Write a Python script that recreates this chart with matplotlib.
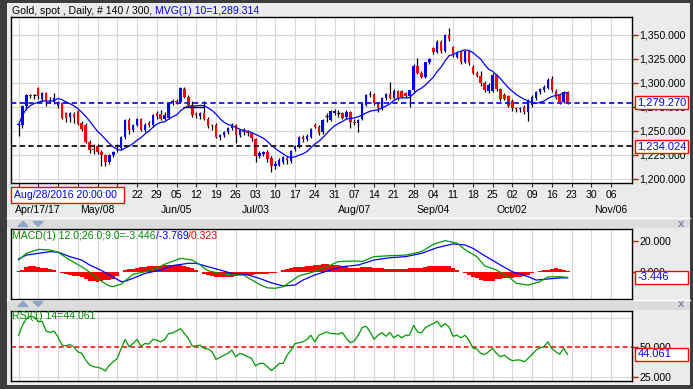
import matplotlib
matplotlib.use("Agg")
import matplotlib.pyplot as plt
import matplotlib.transforms as mtrans
from matplotlib.patches import Rectangle, Polygon
import numpy as np
import pandas as pd

W, H = 693, 389

# ---------------- data ----------------
opens = [1256, 1256, 1276, 1288, 1287, 1294.5, 1283, 1290, 1281, 1280,
         1276.5, 1279, 1268.5, 1265, 1268, 1271, 1258, 1256, 1239, 1230.5,
         1234.4, 1228.4, 1225, 1218, 1225, 1231, 1232, 1244, 1261.5, 1251.5,
         1256, 1263, 1251, 1258.5, 1256, 1268.4, 1267.5, 1263, 1264, 1279,
         1281, 1280.6, 1293.4, 1285.5, 1277, 1267.5, 1266, 1268.5, 1263, 1255.5,
         1256, 1244, 1245.8, 1249.3, 1252.8, 1256, 1246, 1249.5, 1249, 1247.6,
         1242, 1224, 1226, 1228, 1222, 1213, 1215, 1218, 1221.5, 1219,
         1231, 1234, 1244, 1242, 1244, 1256, 1254.5, 1249, 1265, 1261.5,
         1268.5, 1268.8, 1268.4, 1265, 1270, 1259, 1258, 1262, 1277, 1287.5,
         1289, 1279, 1273.6, 1284, 1289, 1284, 1292, 1291.5, 1290, 1286,
         1292.5, 1318, 1310, 1306.6, 1321.5, 1336, 1332.6, 1343, 1333, 1349.5,
         1338, 1327.5, 1332.6, 1322, 1333, 1317, 1310.5, 1307, 1300, 1292,
         1292, 1308, 1294, 1288, 1286, 1281, 1273, 1272.5, 1275.3, 1270,
         1277, 1284, 1291, 1292.5, 1295, 1304, 1292, 1287.5, 1280.6, 1291]
highs = [1258, 1277, 1288.5, 1289, 1289, 1295.5, 1291, 1291, 1285, 1290,
         1281, 1280, 1270, 1270, 1270, 1272, 1260, 1258, 1241, 1236,
         1236, 1230, 1226, 1226, 1229.5, 1236, 1245, 1262, 1264, 1257,
         1264, 1264, 1258, 1260, 1268, 1271, 1272, 1270, 1280, 1283,
         1283, 1296, 1296, 1287, 1281, 1270, 1270, 1281, 1265, 1257,
         1258, 1247, 1250, 1254, 1258, 1257, 1252, 1253, 1251, 1249,
         1243, 1229, 1229, 1230, 1224, 1219, 1222, 1224, 1224, 1230,
         1235, 1245, 1246, 1247, 1253, 1258, 1256, 1262, 1268.4, 1272,
         1273, 1272, 1270, 1272, 1271, 1262, 1263, 1279, 1289, 1292,
         1290, 1280, 1285, 1290, 1301, 1294, 1293, 1293, 1291, 1293,
         1319.5, 1326, 1312, 1322, 1326, 1338, 1345, 1345, 1351, 1357,
         1339, 1333, 1334, 1334, 1334, 1319, 1312, 1312, 1302, 1300,
         1310, 1309, 1295, 1290, 1288, 1283, 1275, 1275, 1277, 1283,
         1287, 1292, 1295, 1298, 1305, 1307, 1294, 1289, 1292, 1292]
lows = [1245, 1253, 1272, 1284, 1283, 1283, 1280, 1276, 1279, 1278,
        1274, 1263, 1259.7, 1259, 1258, 1256, 1250, 1237, 1226.7, 1226,
        1226, 1214, 1214, 1216, 1223, 1228, 1230, 1242, 1247, 1249,
        1255, 1250, 1249, 1254, 1254, 1263, 1261, 1261, 1262, 1277,
        1278, 1279, 1284, 1275, 1265, 1264, 1263, 1261, 1253, 1251,
        1243, 1241, 1244, 1247, 1251, 1237, 1244, 1246, 1245, 1240,
        1218, 1222, 1224, 1218, 1207, 1210, 1213, 1216, 1216, 1217,
        1229, 1232, 1238, 1240, 1243, 1253, 1246, 1247, 1259.7, 1260,
        1267, 1265, 1262, 1263, 1252.8, 1256, 1249.3, 1261, 1276, 1285,
        1277, 1270, 1272, 1282, 1283, 1283, 1282, 1284, 1285, 1275,
        1291, 1309, 1305, 1305, 1320, 1330, 1331, 1331, 1332, 1344,
        1327, 1326, 1320, 1321, 1319, 1309, 1306, 1297, 1291, 1290,
        1291, 1292, 1281, 1282, 1275, 1271, 1270, 1270, 1268, 1260,
        1275, 1282, 1289, 1291, 1294, 1291, 1283, 1278, 1279, 1278]
closes = [1256.5, 1276, 1287, 1286.5, 1287.3, 1286, 1290, 1281, 1280.5, 1284.5,
          1280, 1264, 1263.2, 1268.4, 1265, 1257.3, 1251.7, 1239, 1230.2, 1230,
          1228.4, 1225, 1218, 1225, 1228.4, 1232, 1244, 1261.5, 1251, 1256,
          1263, 1251, 1256, 1256, 1266.7, 1266, 1263, 1267, 1279, 1281,
          1280.5, 1294.4, 1285.8, 1277, 1267, 1266.8, 1268.4, 1263, 1255.5, 1255,
          1244.1, 1245.8, 1249.3, 1252.8, 1256.2, 1246, 1251, 1249, 1247.6, 1242.4,
          1224, 1227, 1228, 1221, 1213, 1216, 1220, 1223, 1220, 1229,
          1234, 1244, 1242, 1245, 1252, 1254.5, 1247.6, 1261.5, 1265.2, 1270.8,
          1270.8, 1268.4, 1263.2, 1270, 1259.7, 1258, 1261.5, 1278, 1287.5, 1289,
          1279, 1273.6, 1284, 1288.5, 1284, 1292, 1283.5, 1285, 1286, 1292.5,
          1318, 1310, 1306.6, 1321.5, 1324.7, 1332.6, 1343, 1333, 1349.5, 1346,
          1329, 1331, 1322, 1333, 1321, 1310, 1307, 1299.6, 1292.7, 1298,
          1308.3, 1293.5, 1283, 1283, 1276, 1273.6, 1272.5, 1273, 1270, 1281,
          1285.5, 1290.5, 1293.4, 1296, 1303, 1293, 1284.5, 1280.6, 1291, 1279.27]

rsi_vals = [60.5, 69, 74.8, 76.8, 76, 72, 72.5, 64, 63, 64,
            59, 52, 51.4, 52.5, 50.6, 46.3, 45, 39.2, 34.9, 33.5,
            32.9, 32, 29.8, 34.9, 37.7, 40.6, 49.2, 56.9, 50.6, 53.4,
            56.9, 51.1, 53.4, 52.9, 56.9, 56.3, 54.8, 56.9, 61.9, 62.5,
            64.2, 66.2, 61.9, 57.7, 51.1, 51.4, 52, 49.2, 48.6, 46.3,
            39.8, 41.4, 43.4, 44.9, 47.7, 42, 44.9, 44, 42, 40.6,
            34.1, 36.3, 36.3, 33.5, 30.1, 32.9, 36.3, 36.3, 43.4, 47.7,
            53.4, 54, 54.8, 56.9, 60.5, 54.8, 60.5, 61.9, 63.4, 61.9,
            61.9, 61.5, 62.8, 57.7, 54, 55.6, 60.5, 67.1, 68.2, 63.4,
            57.1, 60.5, 62.8, 59.6, 62.8, 58.3, 60.8, 58.3, 60.5, 60.5,
            69, 63.4, 62.5, 67.1, 69, 70.5, 72.5, 67.6, 70.5, 67.6,
            59.6, 60.5, 58.3, 60.5, 56.3, 49.7, 48.6, 44.9, 44, 46.3,
            49.2, 44.9, 42, 43.4, 40.6, 38.6, 39.2, 39.2, 37.7, 40.6,
            44, 47.7, 49.7, 50.6, 54.8, 49.2, 46.3, 44.3, 49.2, 44.061]

macd_idx = [0, 2, 5, 8, 10, 13, 16, 19, 21, 23, 24, 26, 28, 29, 32, 35, 37, 41, 44, 46,
            48, 51, 54, 57, 59, 61, 63, 65, 67, 69, 71, 75, 78, 81, 85, 87, 90, 94, 98, 102,
            105, 108, 111, 113, 116, 118, 121, 124, 126, 129, 132, 134, 137, 139]
macd_vals = [7.7, 12.0, 14.6, 14.2, 12.7, 7.7, 3.4, -1.9, -6.0, -9.0, -9.5, -7.8, -3.5, -1.5, 0.2, 2.4, 5.0, 8.8, 7.7, 4.5,
             0.8, -0.9, -1.9, -2.0, -5.0, -8.0, -10.2, -10.5, -9.5, -6.0, -2.5, 0.3, 3.4, 6.7, 7.1, 6.8, 9.9, 10.5, 10.9, 13.1,
             17.8, 20.2, 18.6, 14.5, 9.9, 4.0, 1.3, -3.0, -7.3, -8.4, -6.2, -3.2, -3.0, -3.446]
sig_idx = [0, 2, 5, 8, 10, 13, 16, 18, 21, 23, 26, 27, 30, 32, 36, 39, 43, 45, 48, 51,
           54, 58, 61, 64, 67, 70, 72, 75, 79, 82, 86, 90, 94, 98, 102, 106, 110, 113, 115, 118,
           122, 125, 129, 131, 134, 137, 139]
sig_vals = [8.4, 10.9, 12.0, 13.1, 12.8, 9.9, 7.7, 4.5, 1.0, -1.9, -6.2, -6.0, -3.0, -0.9, 1.3, 4.1, 5.6, 5.6, 3.4, 1.3,
            -0.9, -1.9, -4.1, -7.0, -9.0, -8.4, -5.2, -1.9, 1.3, 3.4, 4.5, 7.7, 9.2, 9.9, 12.0, 15.7, 18.1, 17.4, 15.3, 10.5,
            4.5, 0.2, -3.0, -5.2, -4.5, -3.8, -3.769]
hist_vals = [0.8, 1.5, 3.0, 4.0, 4.1, 3.5, 2.6, 2.4, 2.0, 1.2,
             0.2, -0.5, -1.5, -2.2, -2.5, -2.8, -3.5, -4.6, -5.5, -6.0,
             -6.2, -6.0, -5.4, -5.2, -4.2, -2.5, -0.3, 1.2, 1.8, 2.2,
             2.8, 3.2, 3.4, 3.6, 3.9, 3.9, 4.0, 4.2, 4.5, 4.6,
             4.5, 4.4, 3.8, 3.4, 2.5, 1.3, 0.2, -1.0, -2.2, -2.8,
             -3.2, -3.3, -3.2, -3.2, -3.0, -2.6, -2.2, -2.2, -2.0, -1.8,
             -1.5, -1.6, -1.5, -1.2, -0.8, -0.4, 0.3, 1.2, 1.9, 2.4,
             3.0, 3.4, 3.5, 3.6, 3.8, 4.3, 4.7, 4.9, 4.9, 4.8,
             4.6, 4.2, 3.6, 3.0, 2.8, 2.6, 2.6, 3.0, 3.4, 3.4,
             2.8, 2.4, 2.4, 2.2, 1.9, 1.9, 1.8, 1.7, 1.9, 2.3,
             2.8, 2.8, 2.7, 3.0, 3.6, 4.0, 4.1, 4.0, 4.1, 3.6,
             2.8, 1.2, 0.2, -0.5, -1.8, -3.0, -4.0, -5.2, -5.8, -5.8,
             -5.5, -4.8, -4.2, -4.1, -4.0, -3.6, -3.2, -3.0, -2.6, -1.8,
             -0.6, 0.3, 0.9, 1.3, 1.6, 2.2, 2.4, 1.8, 1.3, 0.323]

monday_days = ["10", "17", "24", "01", "08", "15", "22", "29", "05", "12", "19", "26",
               "03", "10", "17", "24", "31", "07", "14", "21", "28", "04", "11", "18",
               "25", "02", "09", "16", "23", "30", "06"]
month_labels = ["Apr/17/17", "May/08", "Jun/05", "Jul/03", "Aug/07", "Sep/04", "Oct/02", "Nov/06"]
month_monday = [1, 4, 8, 12, 17, 21, 25, 30]
price_ticks = [1200, 1225, 1250, 1275, 1300, 1325, 1350]
macd_ticks = [0, 20]
rsi_ticks = [25, 50]
last_close = 1279.27
support = 1234.024
ma_period = 10
ma_label = "1,289.314"
cursor_label = "Aug/28/2016 20:00:00"

# ---------------- styling helpers ----------------
plt.rcParams['font.family'] = ['Liberation Sans', 'DejaVu Sans']
plt.rcParams['axes.unicode_minus'] = False
FS = 7.6
BLUE = '#0000ff'
RED = '#ff0000'
GREEN = '#009a00'
GRID = '#d6d6d6'
CURSOR_BOX_RIGHT = 124   # px: day labels left of this lie under the cursor box


def rect(x0, y0, x1, y1):
    return [x0 / W, 1 - y1 / H, (x1 - x0) / W, (y1 - y0) / H]


fig = plt.figure(figsize=(W / 100, H / 100), dpi=100)
fig.patch.set_facecolor('#3c3c3c')
fig.patches.append(Rectangle((7 / W, 1 - 385 / H), (690 - 7) / W, (385 - 3) / H,
                             transform=fig.transFigure, facecolor='#ebebeb',
                             edgecolor='none', zorder=-10))
for ytop in (218, 300):
    fig.patches.append(Rectangle((7 / W, 1 - (ytop + 10) / H), (690 - 7) / W, 10 / H,
                                 transform=fig.transFigure, facecolor='#dcdcdc',
                                 edgecolor='none', zorder=-9))
    fig.lines.append(plt.Line2D([7 / W, 690 / W], [1 - ytop / H] * 2,
                                transform=fig.transFigure, color='white', lw=1, zorder=-8))

n = len(closes)
idx = np.arange(n)
mondays = np.arange(len(monday_days)) * 5
xmin, xmax = -1.9, 155.3

o = np.array(opens); c = np.array(closes); hi = np.array(highs); lo = np.array(lows)

# ---------------- main price panel ----------------
ax = fig.add_axes(rect(11, 17, 632, 183))
ax.set_facecolor('white')
ax.set_xlim(xmin, xmax)
ax.set_ylim(1195.8, 1368.75)
for m in mondays:
    ax.axvline(m, color=GRID, lw=0.8, zorder=0)
for p in price_ticks:
    ax.axhline(p, color=GRID, lw=0.8, zorder=0)

ax.vlines(idx, lo, hi, color='black', lw=0.9, zorder=2)
diff = c - o
doji = np.abs(diff) < 0.45
body_col = np.where(diff > 0, BLUE, RED)
bot = np.minimum(o, c)
hgt = np.maximum(np.abs(diff), 1.1)
ax.bar(idx[~doji], hgt[~doji], bottom=bot[~doji], width=0.62,
       color=body_col[~doji], lw=0, zorder=3)
ax.hlines(c[doji], idx[doji] - 0.4, idx[doji] + 0.4, color='black', lw=1.0, zorder=3)

ma = pd.Series(c).rolling(ma_period, min_periods=1).mean()
ax.plot(idx, ma, color=BLUE, lw=0.9, zorder=4)
ax.axhline(last_close, color=BLUE, lw=1.2, linestyle=(0, (3.2, 2.0)), zorder=5)
ax.axhline(support, color='black', lw=1.2, linestyle=(0, (3.2, 2.0)), zorder=5)
ax.hlines(1275.3, 41.6, 47, color='black', lw=1.0, zorder=5)

ax.yaxis.tick_right()
ax.set_yticks(price_ticks)
ax.set_yticklabels([f"{v:,.3f}" for v in price_ticks])
ax.tick_params(axis='y', direction='out', length=4, width=1, color=RED,
               labelcolor='black', labelsize=FS, pad=1.5)
ax.set_xticks(mondays)
ax.set_xticklabels([])
ax.tick_params(axis='x', direction='out', length=3, width=0.8, color='#333333')
for s in ax.spines.values():
    s.set_color('black'); s.set_linewidth(1)

trans_x = mtrans.blended_transform_factory(ax.transData, fig.transFigure)
for m, d in zip(mondays, monday_days):
    xpix = ax.transData.transform((m, 0))[0]
    if xpix < CURSOR_BOX_RIGHT + 6:
        continue  # hidden behind the cursor date box in the reference
    ax.text(m, 1 - 195 / H, d, transform=trans_x, ha='center', va='center',
            fontsize=FS, clip_on=False)
for k, lab in zip(month_monday, month_labels):
    ax.text(mondays[k], 1 - 210 / H, lab, transform=trans_x, ha='center',
            va='center', fontsize=FS, clip_on=False)

fig.patches.append(Rectangle((11 / W, 1 - 203 / H), (CURSOR_BOX_RIGHT - 11) / W, 16 / H,
                             transform=fig.transFigure, facecolor='white',
                             edgecolor=RED, lw=1, zorder=6))
fig.text(14 / W, 1 - 195.5 / H, cursor_label, color=BLUE, fontsize=FS,
         ha='left', va='center', zorder=7)


def value_box(axis, val, text):
    ypix = axis.transData.transform((0, val))[1]
    fig.patches.append(Rectangle((635 / W, (ypix - 6.5) / H), 53 / W, 13 / H,
                                 transform=fig.transFigure, facecolor='white',
                                 edgecolor=RED, lw=1, zorder=6))
    fig.text(637.5 / W, ypix / H, text, color=BLUE, fontsize=FS + 0.4,
             ha='left', va='center', zorder=7)


def rich(x_px, y_px, pieces, size=FS):
    r = fig.canvas.get_renderer()
    x = x_px
    for s, col, gap in pieces:
        t = fig.text(x / W, 1 - y_px / H, s, color=col, fontsize=size,
                     ha='left', va='center', zorder=8)
        x += t.get_window_extent(renderer=r).width + gap


# ---------------- MACD panel ----------------
ax2 = fig.add_axes(rect(11, 229, 632, 299))
ax2.set_facecolor('white')
ax2.set_xlim(xmin, xmax)
ax2.set_ylim(-17.4, 27.7)
for m in mondays:
    ax2.axvline(m, color=GRID, lw=0.8, zorder=0)
ax2.bar(idx, hist_vals, width=1.0, color=RED, lw=0, zorder=2)
ax2.plot(sig_idx, sig_vals, color=BLUE, lw=0.9, zorder=3)
ax2.plot(macd_idx, macd_vals, color=GREEN, lw=0.9, zorder=4)
ax2.yaxis.tick_right()
ax2.set_yticks(macd_ticks)
ax2.set_yticklabels([f"{v:,.3f}" for v in macd_ticks])
ax2.tick_params(axis='y', direction='out', length=4, width=1, color=RED,
                labelcolor='black', labelsize=FS, pad=1.5)
ax2.set_xticks([])
for s in ax2.spines.values():
    s.set_color('black'); s.set_linewidth(1)

# ---------------- RSI panel ----------------
ax3 = fig.add_axes(rect(11, 311, 632, 381))
ax3.set_facecolor('white')
ax3.set_xlim(xmin, xmax)
ax3.set_ylim(21.2, 81.3)
for m in mondays:
    ax3.axvline(m, color=GRID, lw=0.8, zorder=0)
for lvl in (25, 75):
    ax3.axhline(lvl, color=GRID, lw=0.8, zorder=0)
ax3.axhline(50, color=RED, lw=1.1, linestyle=(0, (3.2, 2.0)), zorder=2)
ax3.plot(idx, rsi_vals, color=GREEN, lw=0.9, zorder=3)
ax3.yaxis.tick_right()
ax3.set_yticks(rsi_ticks)
ax3.set_yticklabels([f"{v:,.3f}" for v in rsi_ticks])
ax3.tick_params(axis='y', direction='out', length=4, width=1, color=RED,
                labelcolor='black', labelsize=FS, pad=1.5)
ax3.set_xticks([])
for s in ax3.spines.values():
    s.set_color('black'); s.set_linewidth(1)

value_box(ax, last_close, f"{last_close:,.3f}")
value_box(ax, support, f"{support:,.3f}")
value_box(ax2, macd_vals[-1], f"{macd_vals[-1]:.3f}")
value_box(ax3, rsi_vals[-1], f"{rsi_vals[-1]:.3f}")

rich(12, 10.5, [("Gold, spot , Daily, # 140 / 300,", 'black', 3.0),
                (f"MVG(1) {ma_period}={ma_label}", BLUE, 0)])
rich(12, 236.5, [("MACD(1) 12.0;26.0;9.0=-3.446", '#008c00', 0),
                 ("/-3.769", BLUE, 0), ("/0.323", RED, 0)])
rich(12, 316, [("RSI(1) 14=44.061", '#008c00', 0)])

ARW = '#8ea6c6'
for yb in (221.5, 301.5):
    fig.patches.append(Polygon([(18 / W, 1 - (yb + 5) / H), (28 / W, 1 - (yb + 5) / H),
                                (23 / W, 1 - yb / H)], closed=True,
                               transform=fig.transFigure, color=ARW, zorder=6))
    fig.patches.append(Polygon([(33 / W, 1 - yb / H), (43 / W, 1 - yb / H),
                                (38 / W, 1 - (yb + 5) / H)], closed=True,
                               transform=fig.transFigure, color=ARW, zorder=6))
for yc in (224, 304):
    fig.text(681 / W, 1 - yc / H, "x", color='#7b8ca3', fontsize=8,
             fontweight='bold', ha='center', va='center')

fig.savefig("out.png", dpi=100, facecolor=fig.get_facecolor())
